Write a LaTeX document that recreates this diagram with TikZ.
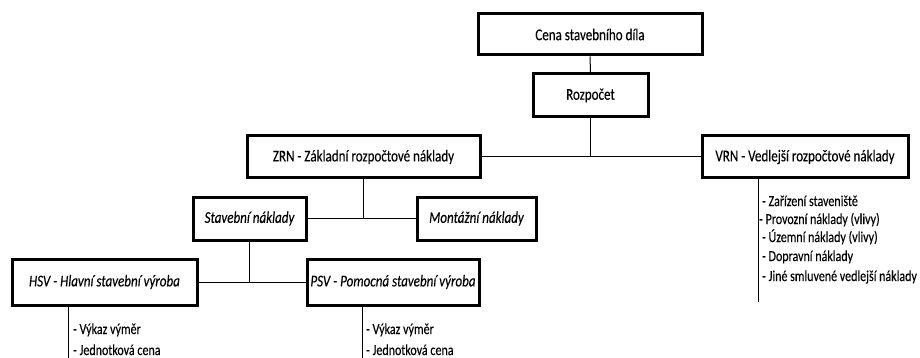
\documentclass[tikz,border=0pt]{standalone}
\usepackage{fontspec}
\setmainfont{Carlito}[FakeStretch=0.79,FakeBold=0.2]
\begin{document}
\begin{tikzpicture}[x=1pt,y=-1pt,
  box/.style={draw=black,line width=3pt,fill=white,inner sep=0pt,align=center,
    font=\fontsize{16.5}{19}\selectfont},
  ibox/.style={box,font=\fontsize{16.5}{19}\selectfont\itshape},
  conn/.style={draw=black,line width=1pt},
  item/.style={anchor=base west,inner sep=0pt,font=\fontsize{15.2}{18}\selectfont}]
\useasboundingbox[fill=white] (0,0) rectangle (920,358);

% boxes
\node[box,minimum width=224,minimum height=41] (cena) at (590,34.5) {Cena stavebního díla};
\node[box,minimum width=115,minimum height=43] (rozp) at (590.5,95.5) {Rozpočet};
\node[box,minimum width=233,minimum height=42] (zrn) at (363.5,157) {ZRN - Základní rozpočtové náklady};
\node[box,minimum width=206,minimum height=42] (vrn) at (805,157) {VRN - Vedlejší rozpočtové náklady};
\node[ibox,minimum width=113,minimum height=43] (stav) at (249.5,218.5) {Stavební náklady};
\node[ibox,minimum width=119,minimum height=43] (mont) at (476.5,218.5) {Montážní náklady};
\node[ibox,minimum width=185,minimum height=46] (hsv) at (104.5,282) {HSV - Hlavní stavební výroba};
\node[ibox,minimum width=172,minimum height=46] (psv) at (393,282) {PSV - Pomocná stavební výroba};

% junctions and free ends
\coordinate (j1) at (rozp.south |- zrn.east);
\coordinate (j2) at (zrn.south |- stav.east);
\coordinate (j3) at (stav.south |- hsv.east);
\coordinate (hend) at (68,358);
\coordinate (pend) at (362,358);
\coordinate (vend) at (758,302);

% connectors
\draw[conn] (cena.south) -- (rozp.north);
\draw[conn] (rozp.south) -- (j1);
\draw[conn] (zrn.east) -- (vrn.west);
\draw[conn] (zrn.south) -- (j2);
\draw[conn] (stav.east) -- (mont.west);
\draw[conn] (stav.south) -- (j3);
\draw[conn] (hsv.east) -- (psv.west);
\draw[conn] (hsv.south -| hend) -- (hend);
\draw[conn] (psv.south -| pend) -- (pend);
\draw[conn] (vrn.south -| vend) -- (vend);

% lists
\node[item] (h1) at (73,334) {- Výkaz výměr};
\node[item] (h2) at (73,355) {- Jednotková cena};
\node[item] (p1) at (366,334) {- Výkaz výměr};
\node[item] (p2) at (366,355) {- Jednotková cena};
\node[item] (v1) at (762,206) {- Zařízení staveniště};
\node[item] (v2) at (759,224) {- Provozní náklady (vlivy)};
\node[item] (v3) at (762,242) {- Územní náklady (vlivy)};
\node[item] (v4) at (762,261) {- Dopravní náklady};
\node[item] (v5) at (762,281) {- Jiné smluvené vedlejší náklady};
\end{tikzpicture}
\end{document}
